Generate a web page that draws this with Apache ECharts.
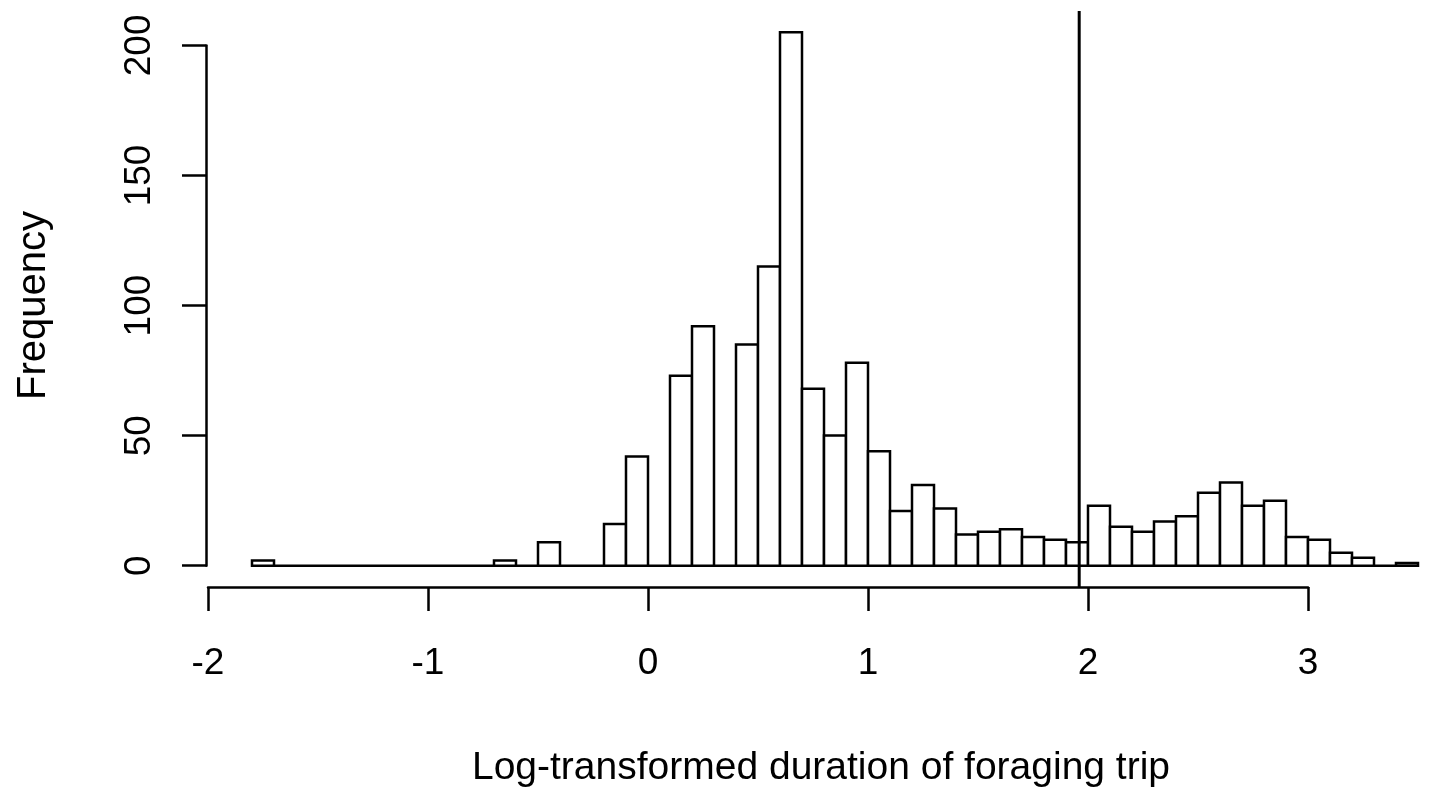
<!DOCTYPE html>
<html>
<head>
<meta charset="utf-8">
<script src="https://cdn.jsdelivr.net/npm/echarts@6/dist/echarts.min.js"></script>
<style>
html,body{margin:0;padding:0;background:#fff;}
#chart{width:1429px;height:788px;}
</style>
</head>
<body>
<div id="chart"></div>
<script>
// Histogram bins (left edges, width 0.1) and frequencies
var binLefts = [-1.8,-1.7,-1.6,-1.5,-1.4,-1.3,-1.2,-1.1,-1.0,-0.9,-0.8,-0.7,-0.6,-0.5,-0.4,-0.3,-0.2,-0.1,
  0.0,0.1,0.2,0.3,0.4,0.5,0.6,0.7,0.8,0.9,1.0,1.1,1.2,1.3,1.4,1.5,1.6,1.7,1.8,1.9,
  2.0,2.1,2.2,2.3,2.4,2.5,2.6,2.7,2.8,2.9,3.0,3.1,3.2,3.3,3.4];
var counts = [2,0,0,0,0,0,0,0,0,0,0,2,0,9,0,0,16,42,
  0,73,92,0,85,115,205,68,50,78,44,21,31,22,12,13,14,11,10,9,
  23,15,13,17,19,28,32,23,25,11,10,5,3,0,1];
var binWidth = 0.1;
var cutoff = 1.96;
var xTicks = [-2,-1,0,1,2,3];
var yTicks = [0,50,100,150,200];
var xTitle = 'Log-transformed duration of foraging trip';
var yTitle = 'Frequency';

var histData = binLefts.map(function(b,i){ return [b, +(b+binWidth).toFixed(2), counts[i]]; });
var maxCount = Math.max.apply(null, counts);
var yLo = -0.04*maxCount, yHi = 1.04*maxCount;

var FONT = 'Liberation Sans, Arial, sans-serif';
var chart = echarts.init(document.getElementById('chart'));
chart.setOption({
  animation:false,
  backgroundColor:'#fff',
  title:{
    text:xTitle, left:816, top:744, textAlign:'center',
    textStyle:{fontFamily:FONT, fontSize:39, fontWeight:'normal', color:'#000'}
  },
  grid:[
    {left:208, width:1210, top:11, height:576},
    {left:206, width:100, top:45.4, height:520.3},
    {left:208, width:1100, top:577, height:10}
  ],
  xAxis:[
    {gridIndex:0, type:'value', min:-2, max:3.5, show:false},
    {gridIndex:1, type:'value', min:0, max:1, show:false},
    {gridIndex:2, type:'value', min:xTicks[0], max:xTicks[xTicks.length-1], interval:1,
      axisLine:{lineStyle:{color:'#000', width:2.5}},
      axisTick:{length:24, lineStyle:{color:'#000', width:2.5}},
      axisLabel:{margin:58, color:'#000', fontFamily:FONT, fontSize:37},
      splitLine:{show:false}}
  ],
  yAxis:[
    {gridIndex:0, type:'value', min:yLo, max:yHi, show:false},
    {gridIndex:1, type:'value', min:yTicks[0], max:yTicks[yTicks.length-1], interval:50,
      name:yTitle, nameLocation:'middle', nameGap:152, nameRotate:90,
      nameTextStyle:{fontFamily:FONT, fontSize:40, color:'#000'},
      axisLine:{show:true, lineStyle:{color:'#000', width:2.5}},
      axisTick:{show:true, length:24, lineStyle:{color:'#000', width:2.5}},
      axisLabel:{rotate:90, margin:48, color:'#000', fontFamily:FONT, fontSize:37},
      splitLine:{show:false}},
    {gridIndex:2, type:'value', show:false}
  ],
  series:[
    {
      type:'custom', xAxisIndex:0, yAxisIndex:0, data:histData, clip:false,
      renderItem:function(params, api){
        var p0 = api.coord([api.value(0), 0]);
        var p1 = api.coord([api.value(1), api.value(2)]);
        return {type:'rect',
          shape:{x:p0[0], y:p1[1], width:p1[0]-p0[0], height:p0[1]-p1[1]},
          style:{fill:'#fff', stroke:'#000', lineWidth:2.5}};
      }
    },
    {
      type:'line', xAxisIndex:0, yAxisIndex:0, clip:false, symbol:'none',
      data:[[cutoff, yLo],[cutoff, yHi]],
      lineStyle:{color:'#000', width:3}
    }
  ]
});
</script>
</body>
</html>
